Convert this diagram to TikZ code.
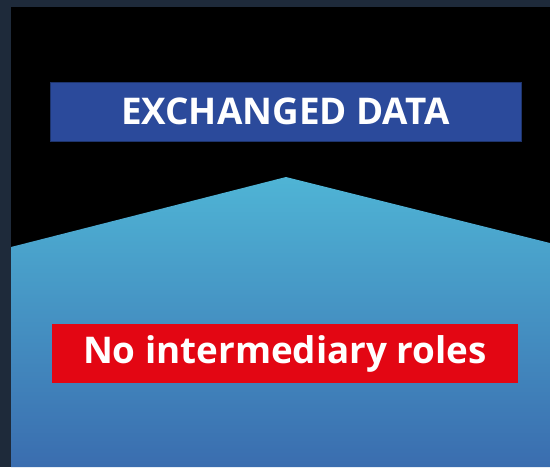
\documentclass[tikz,border=0pt]{standalone}
\usepackage{fontspec}
\setmainfont{Open Sans}
\usetikzlibrary{positioning}
\definecolor{frameblue}{HTML}{1E2A3A}
\definecolor{titleblue}{HTML}{2B4A9B}
\definecolor{roofhi}{HTML}{4FB4D5}
\definecolor{rooflo}{HTML}{3A6DAF}
\definecolor{alertred}{HTML}{E30613}
\tikzstyle{Abox}=[minimum height=59pt,inner sep=0,text=white,font=\fontsize{36.8}{40}\selectfont\bfseries]
\tikzstyle{Atitle}=[Abox,fill=titleblue,draw=titleblue!70!black,line width=0.4pt,minimum width=471pt]
\tikzstyle{Anote}=[Abox,fill=alertred,minimum width=466pt]
\begin{document}
\begin{tikzpicture}[x=1pt,y=-1pt]
  \useasboundingbox (0,0) rectangle (550,467);
  \fill[frameblue] (0,0) rectangle (550,467);
  \fill[black] (11,7) rectangle (550,467);
  % roof shape
  \shade[top color=roofhi,bottom color=rooflo]
    (11,247) -- (286,177) -- (550,243) -- (550,467) -- (11,467) -- cycle;
  \node[Atitle] (data) at (285.5,111.5) {EXCHANGED DATA};
  \node[Anote] (roles) at (285,353.5) {No intermediary roles};
\end{tikzpicture}
\end{document}
